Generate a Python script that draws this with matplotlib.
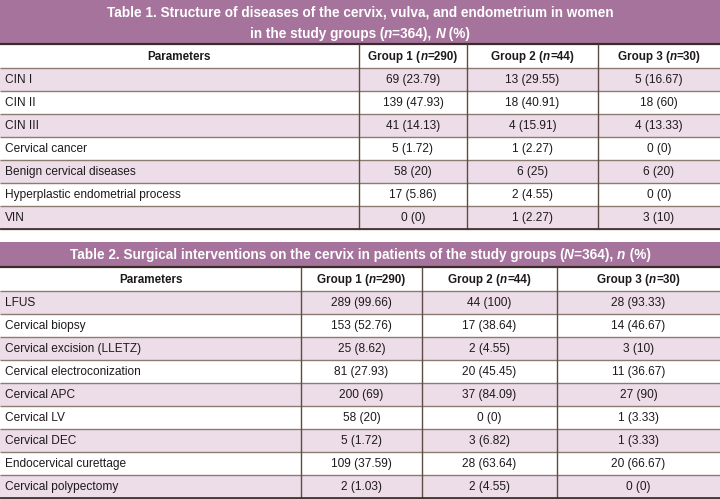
import matplotlib
matplotlib.use("Agg")
import matplotlib.pyplot as plt
from matplotlib.patches import Rectangle

# Table 1 data
t1_params = ["CIN I", "CIN II", "CIN III", "Cervical cancer", "Benign cervical diseases",
             "Hyperplastic endometrial process", "VIN"]
t1_groups = [("Group 1", 290), ("Group 2", 44), ("Group 3", 30)]
t1_counts = [[69, 139, 41, 5, 58, 17, 0],
             [13, 18, 4, 1, 6, 2, 1],
             [5, 18, 4, 0, 6, 0, 3]]
t1_pcts = [[23.79, 47.93, 14.13, 1.72, 20, 5.86, 0],
           [29.55, 40.91, 15.91, 2.27, 25, 4.55, 2.27],
           [16.67, 60, 13.33, 0, 20, 0, 10]]

# Table 2 data
t2_params = ["LFUS", "Cervical biopsy", "Cervical excision (LLETZ)", "Cervical electroconization",
             "Cervical APC", "Cervical LV", "Cervical DEC", "Endocervical curettage",
             "Cervical polypectomy"]
t2_groups = [("Group 1", 290), ("Group 2", 44), ("Group 3", 30)]
t2_counts = [[289, 153, 25, 81, 200, 58, 5, 109, 2],
             [44, 17, 2, 20, 37, 0, 3, 28, 2],
             [28, 14, 3, 11, 27, 1, 1, 20, 0]]
t2_pcts = [[99.66, 52.76, 8.62, 27.93, 69, 20, 1.72, 37.59, 1.03],
           [100, 38.64, 4.55, 45.45, 84.09, 0, 6.82, 63.64, 4.55],
           [93.33, 46.67, 10, 36.67, 90, 3.33, 3.33, 66.67, 0]]

PURPLE = '#a5739b'
PINK = '#ecdde8'
HLINE = '#8c7b70'
VLINE = '#5e4c42'
DARK = '#3a2b28'
TXT = '#1e1a1b'
FONT = 'Liberation Sans'
FS = 8.6
DY = 0.8  # small nudge so text sits centred in the rows

fig = plt.figure(figsize=(7.2, 4.99), dpi=100)
ax = fig.add_axes([0, 0, 1, 1])
ax.set_xlim(0, 720)
ax.set_ylim(499, 0)
ax.axis('off')
renderer = fig.canvas.get_renderer()


def rich_text(x, y, pieces, size, color, ha='center'):
    """pieces: list of (text, weight, style); drawn side by side."""
    objs = []
    widths = []
    for s, w, st in pieces:
        t = ax.text(0, y, s, fontsize=size, fontweight=w, fontstyle=st, color=color,
                    family=FONT, ha='left', va='center')
        objs.append(t)
        widths.append(t.get_window_extent(renderer).width)
    total = sum(widths)
    start = x - total / 2 if ha == 'center' else x
    for t, w in zip(objs, widths):
        t.set_x(start)
        start += w


def draw_table(top, title_lines, title_h, edges, groups, params, counts, pcts, head_h, row_h):
    right = edges[-1]
    ax.add_patch(Rectangle((0, top), right, title_h, facecolor=PURPLE, edgecolor='none'))
    n = len(title_lines)
    for i, line in enumerate(title_lines):
        yy = top + title_h * (i + 0.5) / n + (1 if n > 1 else 0.5)
        rich_text(right / 2, yy, line, 9.8, 'white')
    y0 = top + title_h
    # header
    hy = y0 + head_h / 2 + DY
    rich_text((edges[0] + edges[1]) / 2, hy, [("Parameters", 'bold', 'normal')], 8.4, TXT)
    for j, (g, nn) in enumerate(groups):
        cx = (edges[j + 1] + edges[j + 2]) / 2
        rich_text(cx, hy, [(g + " (", 'bold', 'normal'), ("n", 'bold', 'italic'),
                           ("=%d)" % nn, 'bold', 'normal')], 8.4, TXT)
    ry = y0 + head_h
    for i, p in enumerate(params):
        if i % 2 == 0:
            ax.add_patch(Rectangle((0, ry), right, row_h, facecolor=PINK, edgecolor='none'))
        cy = ry + row_h / 2 + DY
        ax.text(5, cy, p, fontsize=FS, color=TXT, family=FONT, ha='left', va='center')
        for j in range(len(groups)):
            cx = (edges[j + 1] + edges[j + 2]) / 2
            ax.text(cx, cy, "%d (%s)" % (counts[j][i], f"{pcts[j][i]:g}"), fontsize=FS,
                    color=TXT, family=FONT, ha='center', va='center')
        ry += row_h
        ax.plot([0, right], [ry, ry], color=HLINE, lw=1.0, solid_capstyle='butt')
    # lines
    ax.plot([0, right], [y0, y0], color=DARK, lw=1.6, solid_capstyle='butt')
    ax.plot([0, right], [y0 + head_h, y0 + head_h], color=HLINE, lw=1.0, solid_capstyle='butt')
    for x in edges[1:-1]:
        ax.plot([x, x], [y0, ry], color=VLINE, lw=1.0, solid_capstyle='butt')
    ax.plot([0, right], [ry, ry], color=DARK, lw=1.2, solid_capstyle='butt')


B = ('bold', 'normal')
BI = ('bold', 'italic')
title1 = [[("Table 1. Structure of diseases of the cervix, vulva, and endometrium in women", *B)],
          [("in the study groups (", *B), ("n", *BI), ("=364), ", *B), ("N", *BI), (" (%)", *B)]]
title2 = [[("Table 2. Surgical interventions on the cervix in patients of the study groups (", *B),
           ("N", *BI), ("=364), ", *B), ("n", *BI), (" (%)", *B)]]

draw_table(0, title1, 44, [0, 359, 467, 598, 720], t1_groups, t1_params, t1_counts, t1_pcts, 24, 23)
draw_table(242, title2, 25, [0, 301, 422, 557, 720], t2_groups, t2_params, t2_counts, t2_pcts, 24, 23)

fig.savefig("out.png", dpi=100, facecolor='white')
